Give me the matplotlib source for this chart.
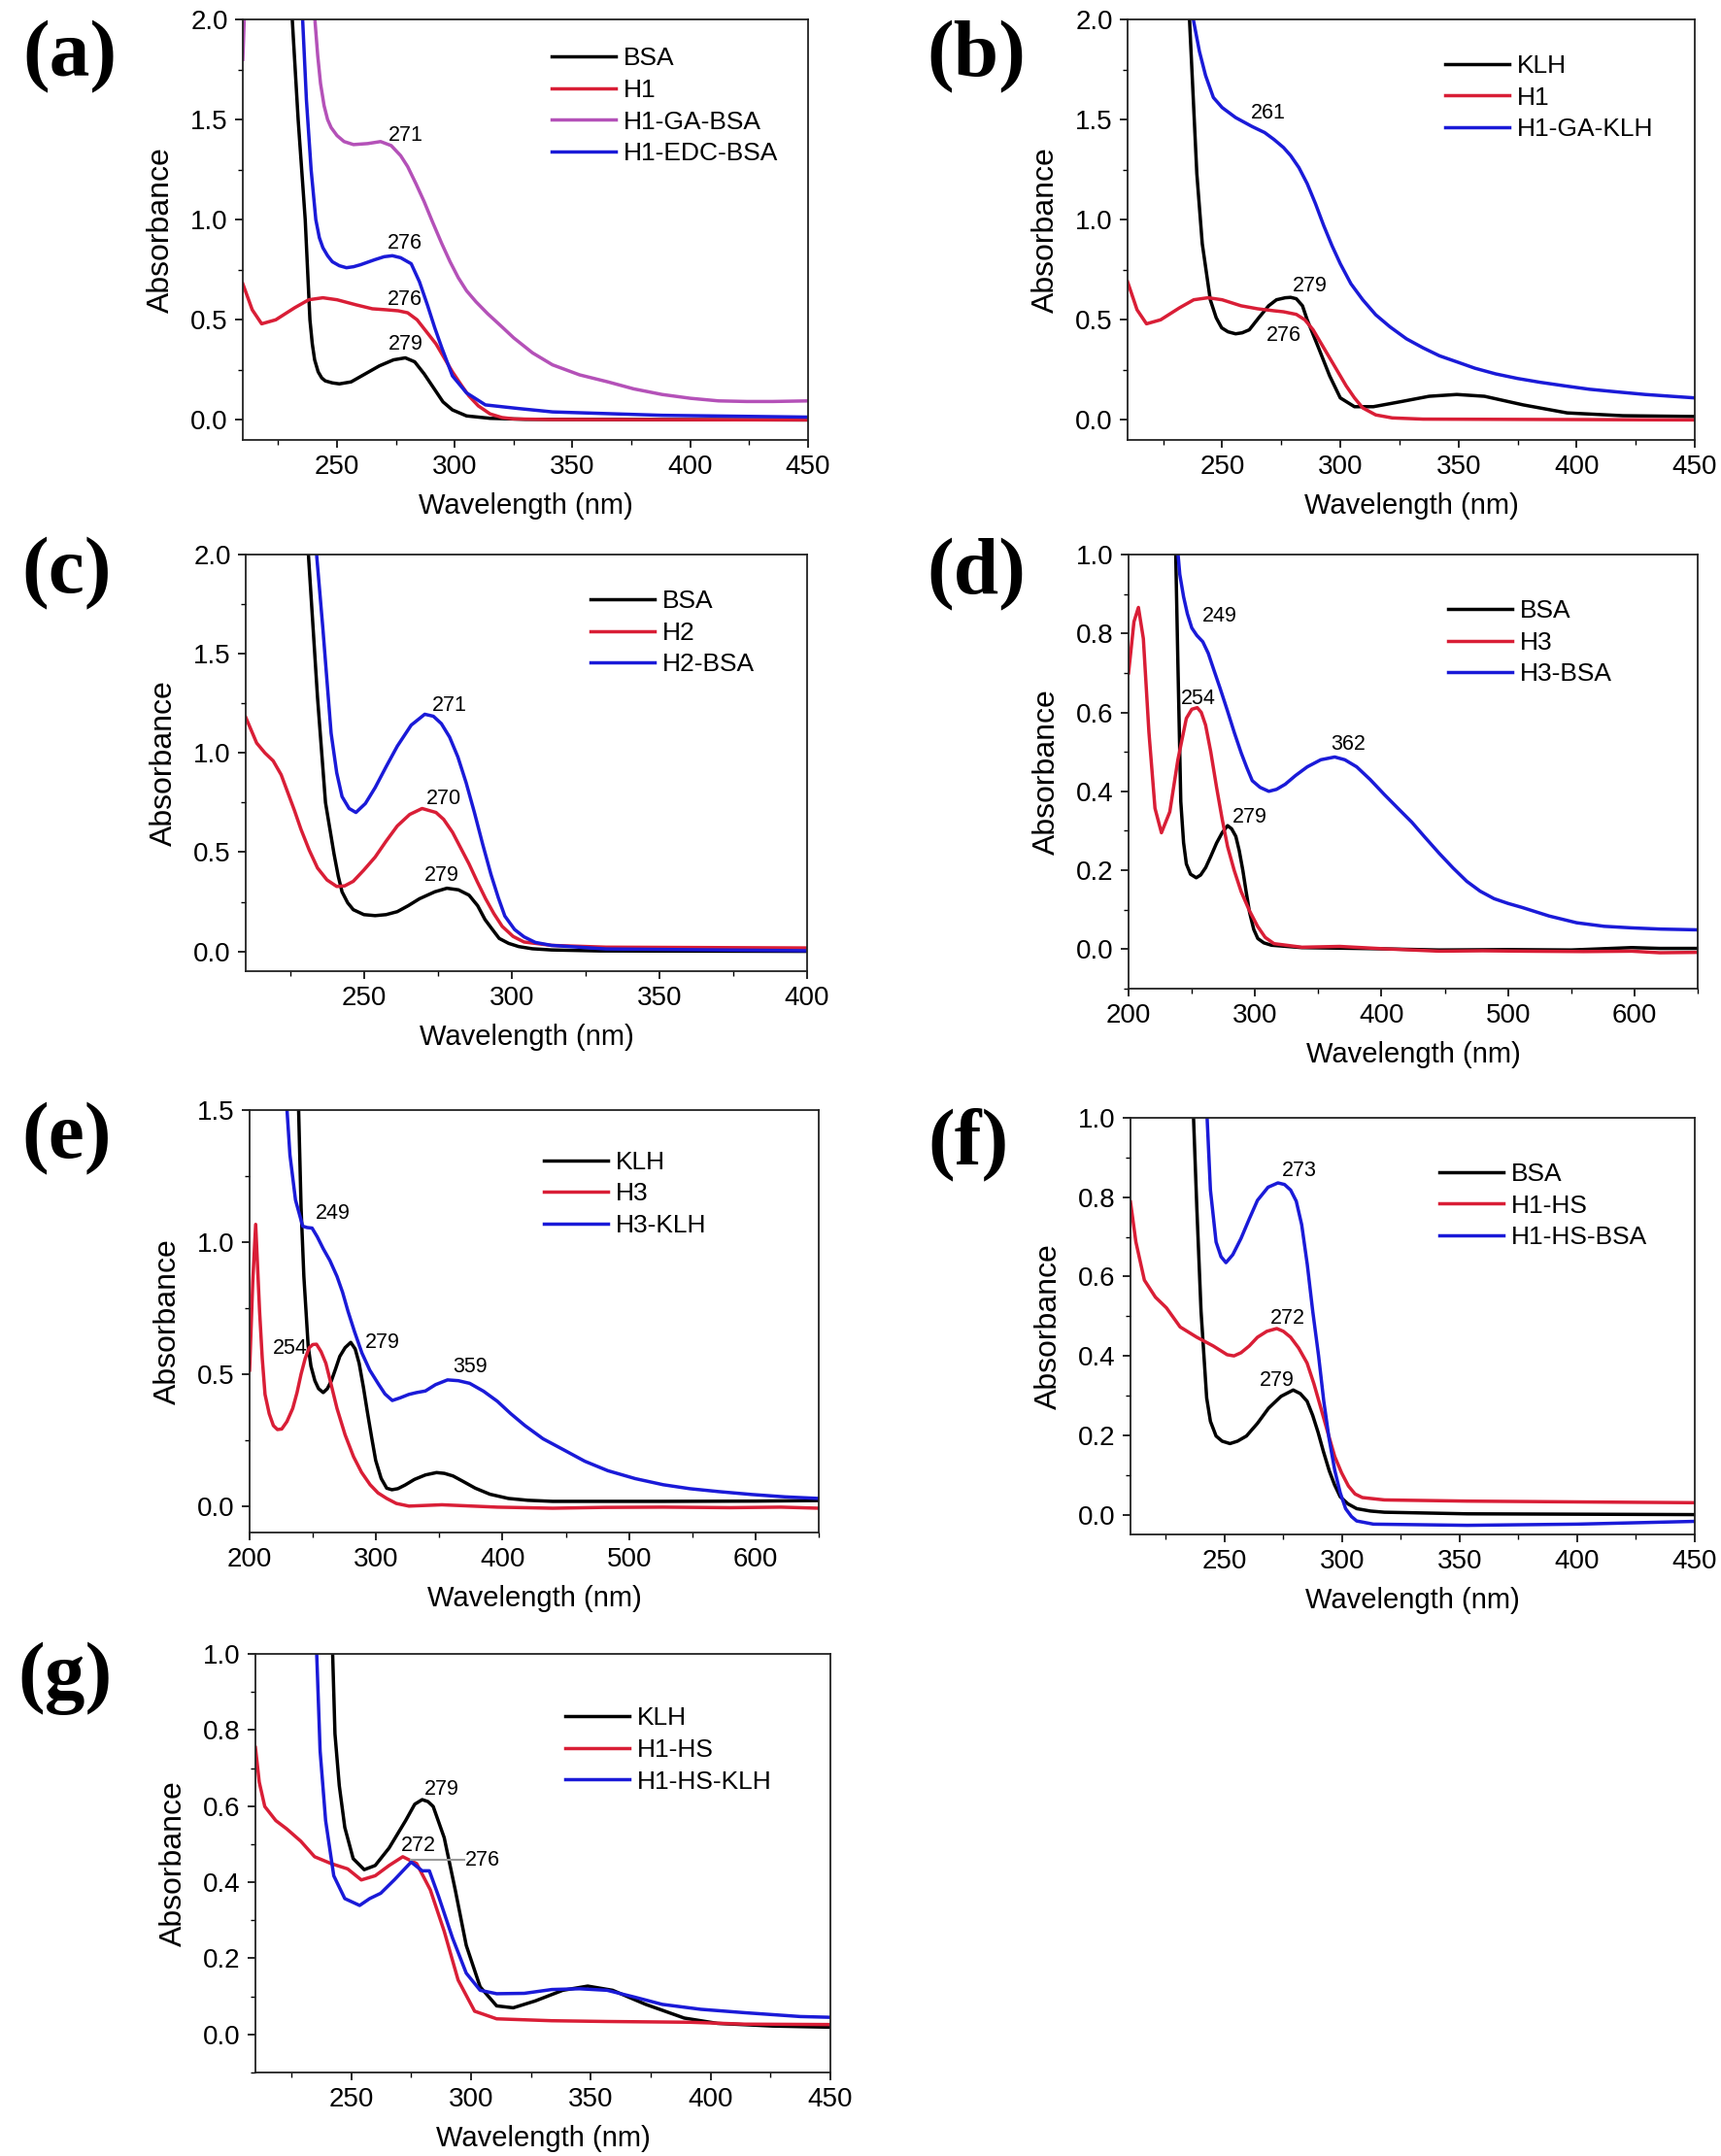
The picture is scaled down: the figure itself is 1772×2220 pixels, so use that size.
import matplotlib
matplotlib.use("Agg")
import matplotlib.pyplot as plt
from matplotlib.ticker import MultipleLocator

plt.rcParams['font.family'] = ['Liberation Sans', 'DejaVu Sans']

# ---- panel (a) ----
a_bsa_x = [230.5, 233.5, 236.5, 238.5, 239.5, 240.5, 242, 243.5, 245, 248, 251, 256, 262, 268, 274, 279, 283, 287, 291, 295, 299, 305, 315, 330, 450]
a_bsa_y = [2.1, 1.5, 1.0, 0.5, 0.38, 0.3, 0.24, 0.21, 0.195, 0.185, 0.18, 0.19, 0.23, 0.27, 0.30, 0.31, 0.29, 0.23, 0.16, 0.09, 0.05, 0.02, 0.008, 0.003, 0.0]
a_h1_x = [210, 214, 218, 224, 232, 238, 244, 250, 258, 265, 271, 276, 280, 284, 288, 292, 296, 299, 303, 306, 310, 315, 320, 325, 340, 450]
a_h1_y = [0.68, 0.55, 0.48, 0.50, 0.56, 0.60, 0.61, 0.60, 0.575, 0.555, 0.55, 0.545, 0.535, 0.50, 0.44, 0.38, 0.30, 0.24, 0.17, 0.12, 0.07, 0.03, 0.012, 0.005, 0.002, 0.0]
a_ga_x = [210, 211.5, 240, 240.6, 241.8, 243, 244.5, 246, 247.5, 250, 253, 257, 263, 268.5, 273, 277, 280, 283.5, 287, 290.5, 294.5, 298, 301.5, 305, 309, 314, 320, 325, 333, 341.5, 353, 365, 376, 388, 400, 412, 424, 435, 450]
a_ga_y = [1.8, 2.3, 2.3, 2.0, 1.82, 1.68, 1.57, 1.5, 1.46, 1.42, 1.39, 1.375, 1.38, 1.39, 1.37, 1.32, 1.265, 1.18, 1.09, 0.99, 0.88, 0.79, 0.71, 0.645, 0.59, 0.53, 0.465, 0.41, 0.335, 0.275, 0.225, 0.19, 0.155, 0.127, 0.108, 0.095, 0.092, 0.092, 0.095]
a_edc_x = [235, 237, 239, 241, 242.5, 244, 246, 248, 251, 254, 257, 260, 266, 270, 273.5, 277, 281.5, 285, 288.5, 291.5, 294.5, 299, 305, 313, 327, 341.5, 388, 450]
a_edc_y = [2.1, 1.6, 1.25, 1.0, 0.91, 0.86, 0.82, 0.79, 0.77, 0.76, 0.765, 0.775, 0.80, 0.815, 0.82, 0.81, 0.78, 0.69, 0.57, 0.46, 0.36, 0.22, 0.135, 0.075, 0.057, 0.04, 0.023, 0.014]

# ---- panel (b) ----
b_klh_x = [236, 239.3, 241.6, 245, 247.5, 249.8, 252.5, 255.7, 258.5, 261.5, 265.5, 269.7, 273, 276.7, 279, 281.4, 284, 286, 290.8, 295.5, 300, 306, 314, 326, 337.6, 349.3, 361, 377.4, 396, 419.6, 450]
b_klh_y = [2.05, 1.23, 0.88, 0.60, 0.51, 0.46, 0.44, 0.43, 0.435, 0.45, 0.51, 0.57, 0.6, 0.61, 0.612, 0.605, 0.57, 0.50, 0.36, 0.22, 0.11, 0.066, 0.066, 0.092, 0.118, 0.127, 0.118, 0.075, 0.035, 0.021, 0.017]
b_h1_x = [210, 214, 218, 224, 232, 238, 244, 250, 258, 265, 272, 276, 281.4, 285, 288.5, 292, 295.5, 299, 302.5, 306, 309.5, 315, 322, 335, 450]
b_h1_y = [0.69, 0.55, 0.48, 0.50, 0.56, 0.60, 0.61, 0.60, 0.57, 0.555, 0.545, 0.54, 0.527, 0.50, 0.45, 0.38, 0.31, 0.24, 0.17, 0.11, 0.06, 0.025, 0.01, 0.004, 0.0]
b_ga_x = [237, 240.4, 243, 246.3, 250, 255.7, 262.7, 268, 272, 276, 279, 282.5, 286, 289.5, 293, 296.5, 300, 304.5, 309.5, 315, 321, 328, 335, 342, 349.3, 357, 365.7, 375, 384.5, 395, 405.5, 417, 429, 440, 450]
b_ga_y = [2.05, 1.84, 1.72, 1.61, 1.56, 1.51, 1.465, 1.435, 1.40, 1.36, 1.32, 1.26, 1.18, 1.08, 0.97, 0.87, 0.78, 0.68, 0.60, 0.525, 0.465, 0.405, 0.36, 0.32, 0.29, 0.258, 0.23, 0.207, 0.188, 0.17, 0.153, 0.14, 0.127, 0.118, 0.11]

# ---- panel (c) ----
c_bsa_x = [231, 234.3, 237, 239.9, 241.3, 242.6, 244.5, 246.4, 250, 253.8, 257.5, 261.3, 265, 268.8, 274, 278.1, 282, 285.6, 288.5, 291, 293.5, 295.8, 299, 302.4, 307, 313.5, 330, 400]
c_bsa_y = [2.05, 1.28, 0.75, 0.49, 0.38, 0.30, 0.245, 0.21, 0.185, 0.18, 0.185, 0.20, 0.23, 0.265, 0.30, 0.318, 0.31, 0.283, 0.23, 0.16, 0.11, 0.065, 0.04, 0.024, 0.013, 0.007, 0.002, 0.0]
c_h2_x = [210, 213.7, 216.5, 219.3, 222, 224, 226.5, 228.7, 231.5, 234.3, 237.5, 240.8, 243.5, 246.4, 250, 253.8, 257.5, 261.3, 265.5, 269.7, 274.4, 277, 280, 282.8, 285.6, 288.4, 291.2, 294, 296.8, 300.5, 304.2, 313.5, 332, 400]
c_h2_y = [1.18, 1.05, 1.00, 0.96, 0.89, 0.81, 0.71, 0.615, 0.51, 0.42, 0.36, 0.327, 0.33, 0.353, 0.41, 0.475, 0.555, 0.632, 0.69, 0.72, 0.70, 0.665, 0.60, 0.52, 0.44, 0.35, 0.265, 0.19, 0.126, 0.075, 0.047, 0.03, 0.021, 0.017]
c_h2bsa_x = [233.7, 236.1, 238.9, 240.8, 242.6, 245, 247.3, 250.5, 253.8, 257.5, 261.3, 266, 270.6, 273.5, 276.2, 279, 281.8, 284.6, 287.4, 290.2, 293, 295.5, 297.7, 301, 304.2, 308, 313.5, 332, 400]
c_h2bsa_y = [2.05, 1.63, 1.10, 0.90, 0.78, 0.72, 0.70, 0.745, 0.825, 0.93, 1.034, 1.14, 1.195, 1.185, 1.148, 1.08, 0.98, 0.85, 0.70, 0.54, 0.388, 0.27, 0.178, 0.11, 0.073, 0.045, 0.03, 0.012, 0.003]

# ---- panel (d) ----
d_bsa_x = [237, 239, 241.3, 243.5, 245.7, 249, 253.5, 257, 261, 265, 269.6, 274, 278.3, 281.5, 284.8, 287.5, 290.4, 293, 295.7, 299, 302.2, 307, 313, 337, 400, 445.6, 500, 550, 597.8, 620, 650]
d_bsa_y = [1.05, 0.726, 0.374, 0.27, 0.216, 0.19, 0.181, 0.188, 0.207, 0.235, 0.269, 0.295, 0.313, 0.305, 0.286, 0.25, 0.199, 0.145, 0.093, 0.05, 0.027, 0.016, 0.01, 0.004, 0.001, -0.002, -0.001, -0.002, 0.004, 0.002, 0.002]
d_h3_x = [200, 204.3, 207.8, 211.7, 216.1, 220.9, 226, 232.6, 239, 245.7, 250, 254.3, 257.5, 260.9, 265, 269.6, 274, 278.3, 283.5, 289, 295.5, 302, 308, 315, 337, 367, 402, 445.6, 480, 510.9, 560, 598, 620, 650]
d_h3_y = [0.70, 0.83, 0.866, 0.787, 0.55, 0.357, 0.295, 0.348, 0.48, 0.585, 0.608, 0.612, 0.6, 0.568, 0.50, 0.41, 0.33, 0.26, 0.2, 0.146, 0.098, 0.058, 0.03, 0.014, 0.005, 0.007, 0.001, -0.005, -0.004, -0.005, -0.006, -0.005, -0.009, -0.008]
d_h3bsa_x = [237.8, 240.5, 243.5, 246.5, 250, 254, 258.7, 263, 267.4, 272.5, 278.3, 283.7, 289.1, 293.5, 297.8, 304, 310.9, 317, 323.9, 332, 341.3, 352, 363, 371, 380.4, 391, 402.2, 413, 423.9, 434.5, 445.6, 456.5, 467.4, 478, 489, 500, 510.9, 532.6, 554.3, 576, 597.8, 620, 650]
d_h3bsa_y = [1.05, 0.95, 0.893, 0.85, 0.814, 0.795, 0.779, 0.75, 0.708, 0.66, 0.603, 0.548, 0.497, 0.46, 0.427, 0.41, 0.40, 0.405, 0.418, 0.44, 0.462, 0.48, 0.487, 0.48, 0.462, 0.43, 0.392, 0.357, 0.322, 0.283, 0.243, 0.206, 0.172, 0.147, 0.128, 0.116, 0.106, 0.084, 0.067, 0.058, 0.054, 0.051, 0.049]

# ---- panel (e) ----
e_klh_x = [238.5, 240.7, 242.9, 246.3, 248.5, 251.6, 254.5, 258.2, 261.5, 264.7, 268, 271.3, 275.5, 280, 283.5, 286.6, 290, 293.1, 296.5, 299.7, 304, 308.4, 312.5, 317.2, 323, 330.3, 339, 347.8, 354, 360.9, 369, 378.4, 390, 404.6, 420, 439.6, 527, 600, 650]
e_klh_y = [1.55, 1.13, 0.87, 0.607, 0.53, 0.475, 0.445, 0.43, 0.445, 0.475, 0.52, 0.567, 0.60, 0.62, 0.595, 0.541, 0.45, 0.357, 0.26, 0.173, 0.105, 0.068, 0.062, 0.066, 0.08, 0.101, 0.118, 0.127, 0.124, 0.114, 0.093, 0.068, 0.045, 0.029, 0.022, 0.018, 0.018, 0.019, 0.021]
e_h3_x = [200, 202.5, 204.8, 207.9, 210, 212.2, 215.5, 218.8, 222, 225.4, 229.5, 234.1, 237.5, 240.7, 244, 247.2, 250, 252.9, 256.5, 260.3, 264.5, 269.1, 275.5, 282.2, 288.5, 295.3, 301.5, 308.4, 316, 326, 352, 395.9, 439.6, 480, 527, 580, 620, 650]
e_h3_y = [0.515, 0.85, 1.067, 0.738, 0.56, 0.423, 0.35, 0.305, 0.29, 0.292, 0.32, 0.37, 0.43, 0.50, 0.56, 0.60, 0.612, 0.613, 0.585, 0.541, 0.46, 0.37, 0.27, 0.187, 0.128, 0.081, 0.05, 0.029, 0.01, 0.0, 0.005, -0.004, -0.008, -0.005, -0.004, -0.006, -0.004, -0.008]
e_h3klh_x = [228.9, 231.9, 236.3, 242, 245.5, 249.4, 253.5, 258.2, 263.5, 269.1, 273.5, 277.8, 283, 288.8, 295, 301.9, 307, 312.8, 319, 325.9, 332, 339, 347, 356.5, 365, 374, 385, 395.9, 406.5, 417.7, 432, 448.4, 465, 483.3, 505, 527, 548, 570.8, 597, 623.3, 650]
e_h3klh_y = [1.55, 1.33, 1.159, 1.06, 1.055, 1.053, 1.02, 0.975, 0.93, 0.87, 0.81, 0.738, 0.66, 0.58, 0.515, 0.462, 0.425, 0.40, 0.41, 0.423, 0.43, 0.436, 0.46, 0.478, 0.475, 0.465, 0.435, 0.397, 0.35, 0.305, 0.255, 0.213, 0.17, 0.134, 0.104, 0.081, 0.066, 0.055, 0.044, 0.035, 0.029]

# ---- panel (f) ----
f_bsa_x = [236.5, 238.2, 240, 242.4, 244, 246.4, 249, 252.3, 255.5, 259.3, 264, 268.7, 274, 279.2, 282.2, 285.1, 287.5, 289.8, 292, 294.5, 296.8, 299.2, 302.5, 306.2, 312, 318, 353.2, 450]
f_bsa_y = [1.05, 0.775, 0.513, 0.294, 0.235, 0.198, 0.185, 0.179, 0.185, 0.198, 0.23, 0.268, 0.298, 0.314, 0.305, 0.286, 0.25, 0.207, 0.16, 0.111, 0.075, 0.045, 0.027, 0.015, 0.009, 0.006, 0.002, 0.0]
f_h1hs_x = [210, 212.3, 215.9, 220.6, 225.3, 231.1, 238.2, 245.2, 251.1, 254, 257, 260.5, 264, 268, 272.2, 275, 278.1, 281.5, 285.1, 288, 291, 294, 296.9, 299.8, 302.7, 305.5, 308.6, 318, 353.2, 400, 450]
f_h1hs_y = [0.788, 0.687, 0.591, 0.548, 0.521, 0.473, 0.447, 0.425, 0.403, 0.40, 0.408, 0.425, 0.447, 0.462, 0.469, 0.462, 0.447, 0.42, 0.382, 0.33, 0.268, 0.205, 0.146, 0.105, 0.072, 0.052, 0.043, 0.037, 0.034, 0.032, 0.03]
f_hsbsa_x = [242.2, 244, 246.4, 248.5, 250.6, 253.5, 257, 260.5, 264, 268.5, 272.7, 275.5, 278.1, 280.5, 282.8, 285.2, 287.5, 290, 292.2, 294.5, 296.9, 299.2, 301.5, 304, 306.2, 313.3, 353.2, 400, 450]
f_hsbsa_y = [1.05, 0.818, 0.687, 0.65, 0.635, 0.655, 0.696, 0.745, 0.792, 0.825, 0.836, 0.832, 0.818, 0.79, 0.731, 0.63, 0.513, 0.40, 0.286, 0.19, 0.111, 0.055, 0.015, -0.005, -0.016, -0.024, -0.027, -0.024, -0.017]

# ---- panel (g) ----
g_klh_x = [242, 243.2, 245, 247.3, 250.8, 255.4, 260, 265.8, 272.7, 276.5, 279.6, 282, 284.2, 288.8, 293.4, 298, 303.8, 310.7, 317.6, 326.8, 338.3, 348.7, 359.1, 372.9, 389, 402.9, 425.9, 450]
g_klh_y = [1.05, 0.79, 0.654, 0.544, 0.462, 0.433, 0.444, 0.49, 0.562, 0.605, 0.617, 0.612, 0.599, 0.517, 0.38, 0.234, 0.125, 0.075, 0.07, 0.088, 0.116, 0.127, 0.116, 0.079, 0.043, 0.029, 0.022, 0.019]
g_h1hs_x = [210, 211.6, 213.9, 218.5, 223.1, 228.9, 234.7, 241.6, 248.5, 254.2, 260, 265.8, 271.5, 277.3, 283, 288.8, 294.6, 301.5, 310.7, 333.7, 356.8, 391.3, 414.4, 450]
g_h1hs_y = [0.754, 0.663, 0.599, 0.562, 0.54, 0.508, 0.467, 0.449, 0.435, 0.406, 0.417, 0.444, 0.467, 0.449, 0.38, 0.271, 0.143, 0.061, 0.041, 0.036, 0.034, 0.032, 0.027, 0.026]
g_hsklh_x = [235.3, 237, 239.3, 242.7, 247.3, 253.5, 257.7, 262.3, 268.1, 275, 279.6, 282.6, 286.5, 292.3, 298, 303.8, 310.7, 322.2, 333.7, 345.3, 356.8, 368.3, 379.8, 395.9, 414.4, 437.4, 450]
g_hsklh_y = [1.05, 0.745, 0.562, 0.417, 0.357, 0.339, 0.357, 0.371, 0.407, 0.453, 0.43, 0.43, 0.362, 0.253, 0.161, 0.116, 0.107, 0.108, 0.118, 0.12, 0.116, 0.098, 0.079, 0.066, 0.057, 0.047, 0.045]

BLACK = '#000000'
RED = '#d91e36'
BLUE = '#1a1ad8'
PURPLE = '#b451b8'

fig = plt.figure(figsize=(17.72, 22.2), dpi=100)
W, H = 1772.0, 2220.0


def make_axes(left, right, top, bottom):
    return fig.add_axes([left / W, 1 - bottom / H, (right - left) / W, (bottom - top) / H])


def style(ax, xlim, ylim, xmaj, xmin, ymaj, ymin):
    ax.set_xlim(xlim)
    ax.set_ylim(ylim)
    ax.xaxis.set_major_locator(MultipleLocator(xmaj))
    ax.xaxis.set_minor_locator(MultipleLocator(xmin))
    ax.yaxis.set_major_locator(MultipleLocator(ymaj))
    ax.yaxis.set_minor_locator(MultipleLocator(ymin))
    ax.yaxis.set_major_formatter(plt.FormatStrFormatter('%.1f'))
    ax.tick_params(which='major', direction='out', length=6, width=1.2, labelsize=20, pad=5)
    ax.tick_params(which='minor', direction='out', length=3.5, width=1.0)
    for s in ax.spines.values():
        s.set_linewidth(1.3)
        s.set_color('#222222')
    ax.set_xlabel('Wavelength (nm)', fontsize=21, labelpad=9)
    ax.set_ylabel('Absorbance', fontsize=23, labelpad=11)


def draw(ax, series, notes, leg_x, leg_y):
    for x, y, c, lab in series:
        ax.plot(x, y, color=c, lw=2.5, label=lab, solid_joinstyle='round')
    for t, x, y in notes:
        ax.text(x, y, t, fontsize=15.5, ha='center', va='center')
    ax.legend(loc='upper left', bbox_to_anchor=(leg_x, leg_y), frameon=False, fontsize=19,
              borderpad=0, borderaxespad=0, handlelength=2.5, handletextpad=0.3,
              labelspacing=0.33)


# (a)
ax = make_axes(250, 832, 20, 453)
draw(ax, [(a_bsa_x, a_bsa_y, BLACK, 'BSA'), (a_h1_x, a_h1_y, RED, 'H1'),
          (a_ga_x, a_ga_y, PURPLE, 'H1-GA-BSA'), (a_edc_x, a_edc_y, BLUE, 'H1-EDC-BSA')],
     [('271', 279, 1.42), ('276', 279, 0.88), ('276', 279, 0.60), ('279', 279, 0.38)],
     0.546, 0.935)
style(ax, (210, 450), (-0.1, 2.0), 50, 25, 0.5, 0.25)

# (b)
ax = make_axes(1161, 1745, 20, 453)
draw(ax, [(b_klh_x, b_klh_y, BLACK, 'KLH'), (b_h1_x, b_h1_y, RED, 'H1'),
          (b_ga_x, b_ga_y, BLUE, 'H1-GA-KLH')],
     [('261', 269.7, 1.53), ('279', 287, 0.67), ('276', 276.3, 0.42)],
     0.56, 0.917)
style(ax, (210, 450), (-0.1, 2.0), 50, 25, 0.5, 0.25)

# (c)
ax = make_axes(253, 831, 571, 1000)
draw(ax, [(c_bsa_x, c_bsa_y, BLACK, 'BSA'), (c_h2_x, c_h2_y, RED, 'H2'),
          (c_h2bsa_x, c_h2bsa_y, BLUE, 'H2-BSA')],
     [('271', 279, 1.24), ('270', 277.2, 0.77), ('279', 276.2, 0.38)],
     0.614, 0.916)
style(ax, (210, 400), (-0.1, 2.0), 50, 25, 0.5, 0.25)

# (d)
ax = make_axes(1162, 1748, 571, 1018)
draw(ax, [(d_bsa_x, d_bsa_y, BLACK, 'BSA'), (d_h3_x, d_h3_y, RED, 'H3'),
          (d_h3bsa_x, d_h3bsa_y, BLUE, 'H3-BSA')],
     [('249', 271.7, 0.844), ('254', 255.2, 0.634), ('279', 295.7, 0.335), ('362', 374, 0.519)],
     0.561, 0.897)
style(ax, (200, 650), (-0.1, 1.0), 100, 50, 0.2, 0.1)

# (e)
ax = make_axes(257, 843, 1143, 1578)
draw(ax, [(e_klh_x, e_klh_y, BLACK, 'KLH'), (e_h3_x, e_h3_y, RED, 'H3'),
          (e_h3klh_x, e_h3klh_y, BLUE, 'H3-KLH')],
     [('249', 266, 1.109), ('254', 231.9, 0.596), ('279', 305, 0.62), ('359', 374, 0.528)],
     0.517, 0.904)
style(ax, (200, 650), (-0.1, 1.5), 100, 50, 0.5, 0.25)

# (f)
ax = make_axes(1164, 1745, 1151, 1580)
draw(ax, [(f_bsa_x, f_bsa_y, BLACK, 'BSA'), (f_h1hs_x, f_h1hs_y, RED, 'H1-HS'),
          (f_hsbsa_x, f_hsbsa_y, BLUE, 'H1-HS-BSA')],
     [('273', 281.6, 0.866), ('272', 276.9, 0.495), ('279', 272.2, 0.338)],
     0.548, 0.893)
style(ax, (210, 450), (-0.05, 1.0), 50, 25, 0.2, 0.1)

# (g)
ax = make_axes(263, 855, 1703, 2134)
draw(ax, [(g_klh_x, g_klh_y, BLACK, 'KLH'), (g_h1hs_x, g_h1hs_y, RED, 'H1-HS'),
          (g_hsklh_x, g_hsklh_y, BLUE, 'H1-HS-KLH')],
     [('279', 287.6, 0.644), ('272', 278, 0.497), ('276', 304.9, 0.458)],
     0.539, 0.874)
ax.plot([275, 297], [0.46, 0.46], color='#999999', lw=1.5)
style(ax, (210, 450), (-0.1, 1.0), 50, 25, 0.2, 0.1)

# panel letters
for lab, x, y in [('(a)', 72, 59), ('(b)', 1005, 59), ('(c)', 69, 591), ('(d)', 1005, 592),
                  ('(e)', 69, 1173), ('(f)', 997, 1179), ('(g)', 67, 1728)]:
    fig.text(x / W, 1 - y / H, lab, fontsize=60, fontweight='bold', family='Liberation Serif',
             ha='center', va='center')

fig.savefig('out.png', dpi=100)
